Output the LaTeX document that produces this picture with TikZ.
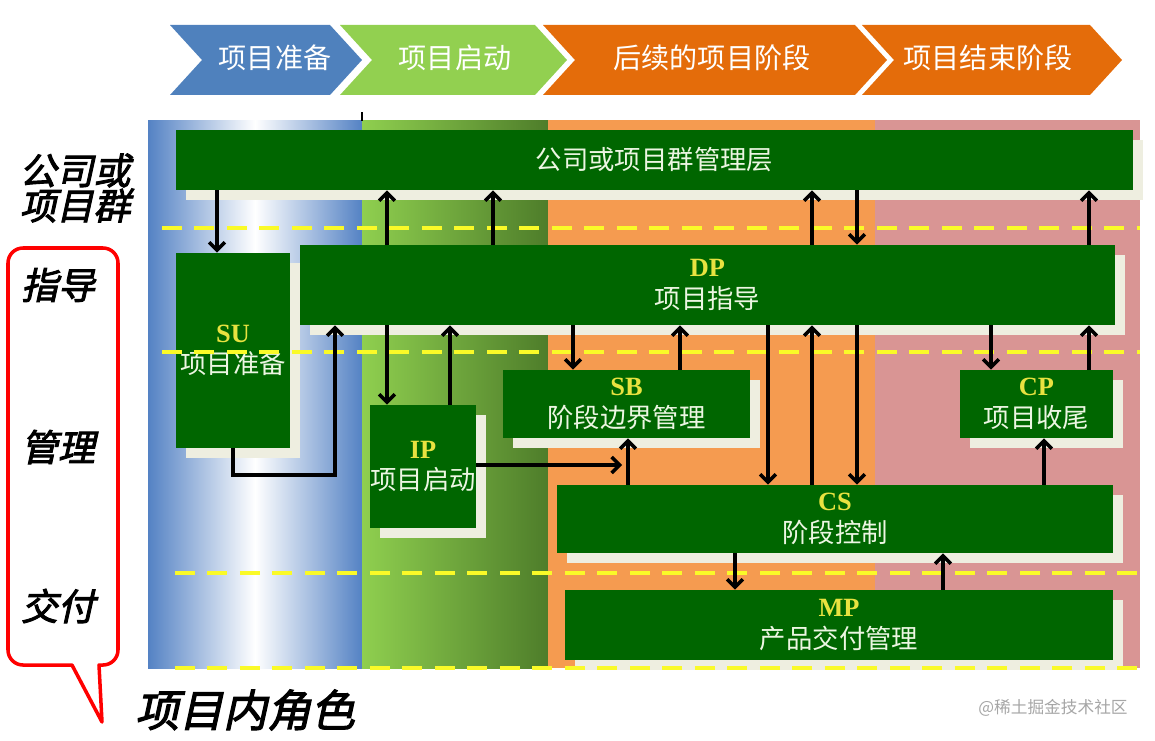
\documentclass[tikz,border=0pt]{standalone}
\usepackage{fontspec}
\usetikzlibrary{shadows,arrows.meta}
\setmainfont{Liberation Serif}
\newfontfamily\cjk{Noto Sans CJK SC}
\newfontfamily\cjkbi{Noto Sans CJK SC}[FakeSlant=0.22,FakeBold=2.5]
\newcommand\prc[1]{{\rmfamily\bfseries\color{codey}#1}}
\definecolor{chblue}{RGB}{79,129,189}
\definecolor{chgreen}{RGB}{146,208,80}
\definecolor{chorange}{RGB}{228,108,10}
\definecolor{colblue}{RGB}{84,130,196}
\definecolor{colgreenl}{RGB}{143,207,79}
\definecolor{colgreend}{RGB}{78,125,42}
\definecolor{colorange}{RGB}{245,155,80}
\definecolor{colpink}{RGB}{217,149,148}
\definecolor{boxgreen}{RGB}{0,102,0}
\definecolor{boxtext}{RGB}{236,246,226}
\definecolor{codey}{RGB}{232,226,64}
\definecolor{shadowc}{RGB}{238,238,224}
\definecolor{laney}{RGB}{250,250,40}

\begin{document}
\begin{tikzpicture}[x=0.02cm,y=-0.02cm,
  >={Straight Barb[length=4.5pt,width=9pt,line width=2pt]},
  box/.style={fill=boxgreen, text=boxtext, inner sep=0pt, align=center,
    font=\cjk\fontsize{15}{18}\selectfont,
    drop shadow={shadow xshift=0.2cm, shadow yshift=-0.2cm, fill=shadowc, opacity=1}},
  arr/.style={->, line width=2.2pt},
  phase/.style={text=white, font=\cjk\fontsize{16}{18}\selectfont},
  side/.style={font=\cjkbi\fontsize{21}{20}\selectfont, align=center},
  lane/.style={draw=laney, line width=2.3pt, dash pattern=on 0.4cm off 0.25cm}]
  \useasboundingbox (0,0) rectangle (1155,740);

  % phases along the top
  \fill[chblue] (170,25) -- (330,25) -- (362,60) -- (330,95) -- (170,95) -- (202,60) -- cycle;
  \fill[chgreen] (340,25) -- (535,25) -- (567,60) -- (535,95) -- (340,95) -- (372,60) -- cycle;
  \fill[chorange] (543,25) -- (855,25) -- (887,60) -- (855,95) -- (543,95) -- (575,60) -- cycle;
  \fill[chorange] (862,25) -- (1090,25) -- (1122,60) -- (1090,95) -- (862,95) -- (894,60) -- cycle;
  \node[phase] (ph1) at (275,58) {项目准备};
  \node[phase] (ph2) at (455,58) {项目启动};
  \node[phase] (ph3) at (712,58) {后续的项目阶段};
  \node[phase] (ph4) at (988,58) {项目结束阶段};

  % columns
  \shade[left color=colblue, right color=colblue, middle color=white] (148,120) rectangle (362,668);
  \shade[left color=colgreenl, right color=colgreend] (362,120) rectangle (548,668);
  \fill[colorange] (548,120) rectangle (875,668);
  \fill[colpink] (875,120) rectangle (1140,668);
  \draw[line width=1.2pt] (362,112) -- (362,121);

  % processes
  \node[box, minimum width=19.14cm, minimum height=1.2cm] (top) at (654.5,160) {公司或项目群管理层};
  \node[box, minimum width=2.28cm, minimum height=3.9cm] (su) at (233,350.5) {\prc{SU}\\项目准备};
  \node[box, minimum width=16.3cm, minimum height=1.6cm] (dp) at (707.5,285) {\prc{DP}\\项目指导};
  \node[box, minimum width=2.12cm, minimum height=2.46cm] (ip) at (423,466.5) {\prc{IP}\\项目启动};
  \node[box, minimum width=4.94cm, minimum height=1.36cm] (sb) at (626.5,404) {\prc{SB}\\阶段边界管理};
  \node[box, minimum width=3.06cm, minimum height=1.36cm] (cp) at (1036.5,404) {\prc{CP}\\项目收尾};
  \node[box, minimum width=11.12cm, minimum height=1.36cm] (cs) at (835,519) {\prc{CS}\\阶段控制};
  \node[box, minimum width=10.96cm, minimum height=1.4cm] (mp) at (839,625) {\prc{MP}\\产品交付管理};

  % level lines
  \draw[lane] (162,228) -- (1140,228);
  \draw[lane] (162,352) -- (1140,352);
  \draw[lane] (175,573) -- (1140,573);
  \draw[lane] (175,668) -- (1140,668);

  % flows
  \draw[arr] (top.south -| 217,0) -- (su.north -| 217,0);
  \foreach \x in {387,493,812,1089}
    \draw[arr] (dp.north -| \x,0) -- (top.south -| \x,0);
  \draw[arr] (top.south -| 857,0) -- (dp.north -| 857,0);
  \draw[arr] (su.south) -- ++(0,27) -| (dp.south -| 335,0);
  \draw[arr] (dp.south -| 387,0) -- (ip.north -| 387,0);
  \draw[arr] (ip.north -| 450,0) -- (dp.south -| 450,0);
  \draw[arr] (dp.south -| 573,0) -- (sb.north -| 573,0);
  \draw[arr] (sb.north -| 680,0) -- (dp.south -| 680,0);
  \coordinate (ipsb) at (622,465);
  \draw[arr] (ip.east |- ipsb) -- (ipsb);
  \draw[arr] (cs.north -| 628,0) -- (sb.south -| 628,0);
  \draw[arr] (dp.south -| 768,0) -- (cs.north -| 768,0);
  \draw[arr] (cs.north -| 812,0) -- (dp.south -| 812,0);
  \draw[arr] (dp.south -| 857,0) -- (cs.north -| 857,0);
  \draw[arr] (dp.south -| 991,0) -- (cp.north -| 991,0);
  \draw[arr] (cp.north -| 1089,0) -- (dp.south -| 1089,0);
  \draw[arr] (cs.north -| 1044,0) -- (cp.south -| 1044,0);
  \draw[arr] (cs.south -| 735,0) -- (mp.north -| 735,0);
  \draw[arr] (mp.north -| 943,0) -- (cs.south -| 943,0);

  % roles on the left
  \draw[red, line width=2pt, line join=round] (99,665) -- (102,722) -- (72,665) [rounded corners=0.3cm]
    -- (8,665) -- (8,248) -- (118,248) -- (118,665) [sharp corners] -- cycle;
  \node[side] (org) at (75,188) {公司或\\项目群};
  \node[side] (dir) at (58,285) {指导};
  \node[side] (mgt) at (58,447) {管理};
  \node[side] (dlv) at (58,606) {交付};
  \node[font=\cjkbi\fontsize{25}{28}\selectfont] (role) at (245,710) {项目内角色};
  \node[text=black!35, font=\cjk\fontsize{9.5}{11}\selectfont] (mark) at (1053,708) {@稀土掘金技术社区};
\end{tikzpicture}
\end{document}
